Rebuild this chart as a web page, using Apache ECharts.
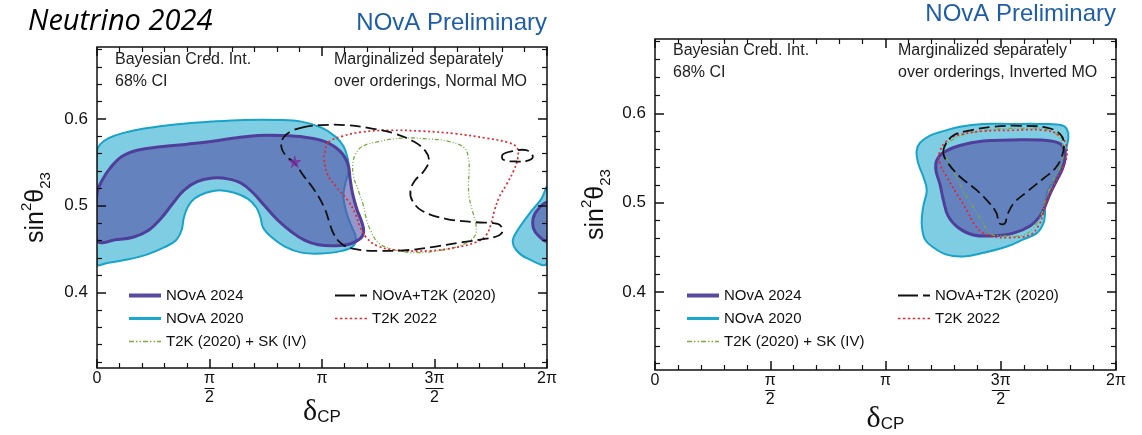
<!DOCTYPE html>
<html>
<head>
<meta charset="utf-8">
<script src="https://cdn.jsdelivr.net/npm/echarts@6/dist/echarts.min.js"></script>
<style>
  html, body { margin: 0; padding: 0; background: #fff; }
  #chart { width: 1142px; height: 435px; }
</style>
</head>
<body>
<div id="chart"></div>
<script>
// x = delta_CP in units of pi, y = sin^2(theta23)
var xTickValues = [0, 0.5, 1, 1.5, 2];
var xTickLabels = ['0', 'π/2', 'π', '3π/2', '2π'];
var yTickValues = [0.4, 0.5, 0.6];
var yRange = [0.313, 0.683];

var legendCol1 = ['NOvA 2024', 'NOvA 2020', 'T2K (2020) + SK (IV)'];
var legendCol2 = ['NOvA+T2K (2020)', 'T2K 2022'];

// ---- Normal MO (left) ----
var nova2020NO = [[0,0.563],[0.015,0.571],[0.052,0.578],[0.119,0.584],[0.209,0.589],[0.358,0.594],[0.507,0.597],[0.656,0.599],[0.805,0.599],[0.909,0.597],[0.998,0.590],[1.058,0.580],[1.095,0.569],[1.115,0.554],[1.118,0.540],[1.103,0.525],[1.095,0.510],[1.110,0.491],[1.133,0.475],[1.150,0.464],[1.140,0.454],[1.088,0.448],[0.998,0.445],[0.909,0.446],[0.835,0.453],[0.775,0.464],[0.738,0.475],[0.726,0.487],[0.708,0.498],[0.671,0.508],[0.611,0.515],[0.544,0.518],[0.484,0.515],[0.432,0.508],[0.402,0.498],[0.385,0.485],[0.376,0.472],[0.350,0.460],[0.298,0.452],[0.224,0.444],[0.134,0.438],[0.045,0.434],[0,0.433]];
var nova2020NOwrap = [[2,0.521],[1.975,0.508],[1.922,0.491],[1.875,0.474],[1.848,0.460],[1.863,0.449],[1.915,0.439],[2,0.434]];
var nova2024NO = [[0,0.514],[0.022,0.529],[0.060,0.544],[0.112,0.557],[0.179,0.564],[0.283,0.568],[0.402,0.571],[0.507,0.574],[0.611,0.578],[0.715,0.581],[0.820,0.581],[0.924,0.579],[1.013,0.574],[1.080,0.563],[1.115,0.548],[1.125,0.531],[1.136,0.514],[1.155,0.496],[1.177,0.481],[1.185,0.470],[1.170,0.462],[1.125,0.456],[1.058,0.454],[0.984,0.455],[0.924,0.460],[0.864,0.470],[0.805,0.483],[0.745,0.500],[0.693,0.515],[0.641,0.526],[0.581,0.531],[0.514,0.532],[0.447,0.528],[0.387,0.518],[0.335,0.502],[0.283,0.485],[0.231,0.472],[0.164,0.464],[0.089,0.461],[0,0.460]];
var nova2024NOwrap = [[2,0.503],[1.967,0.498],[1.940,0.487],[1.940,0.474],[1.964,0.465],[2,0.460]];
var t2kskNO = [[1.177,0.568],[1.148,0.559],[1.137,0.548],[1.140,0.534],[1.162,0.517],[1.182,0.502],[1.195,0.487],[1.215,0.472],[1.252,0.457],[1.326,0.449],[1.416,0.446],[1.535,0.449],[1.632,0.456],[1.681,0.466],[1.684,0.479],[1.669,0.494],[1.654,0.510],[1.651,0.525],[1.654,0.540],[1.651,0.555],[1.632,0.567],[1.565,0.574],[1.475,0.577],[1.356,0.578],[1.252,0.574]];
var t2k22NO = [[1.028,0.573],[1.013,0.563],[1.010,0.552],[1.025,0.536],[1.066,0.521],[1.115,0.506],[1.148,0.491],[1.170,0.475],[1.195,0.464],[1.244,0.454],[1.326,0.449],[1.475,0.448],[1.595,0.452],[1.684,0.458],[1.729,0.466],[1.751,0.479],[1.766,0.494],[1.788,0.510],[1.821,0.525],[1.851,0.540],[1.870,0.555],[1.866,0.567],[1.826,0.573],[1.729,0.578],[1.595,0.583],[1.446,0.586],[1.297,0.587],[1.177,0.585],[1.088,0.580]];
var nt2kNO = [[0.924,0.591],[0.864,0.586],[0.827,0.578],[0.820,0.567],[0.842,0.557],[0.879,0.549],[0.917,0.535],[0.969,0.517],[1.010,0.498],[1.033,0.481],[1.051,0.468],[1.088,0.456],[1.148,0.450],[1.252,0.448],[1.386,0.449],[1.505,0.453],[1.624,0.458],[1.729,0.462],[1.788,0.466],[1.803,0.472],[1.781,0.479],[1.684,0.481],[1.550,0.485],[1.446,0.494],[1.401,0.506],[1.393,0.517],[1.413,0.529],[1.453,0.540],[1.475,0.552],[1.460,0.563],[1.408,0.574],[1.326,0.583],[1.222,0.589],[1.103,0.593],[0.998,0.593]];
var nt2kNOloop = [[1.803,0.559],[1.848,0.563],[1.908,0.564],[1.937,0.557],[1.915,0.552],[1.863,0.551],[1.806,0.553]];
var bestFitNO = [[0.879, 0.551]];

// ---- Inverted MO (right) ----
var nova2020IO = [[1.135,0.558],[1.150,0.567],[1.193,0.575],[1.251,0.580],[1.323,0.585],[1.424,0.588],[1.540,0.588],[1.670,0.588],[1.771,0.586],[1.793,0.577],[1.786,0.562],[1.771,0.544],[1.743,0.529],[1.706,0.514],[1.692,0.499],[1.692,0.488],[1.685,0.477],[1.656,0.466],[1.598,0.459],[1.526,0.451],[1.424,0.444],[1.338,0.440],[1.265,0.442],[1.208,0.450],[1.171,0.459],[1.157,0.477],[1.164,0.496],[1.179,0.514],[1.164,0.529],[1.142,0.544]];
var nova2024IO = [[1.219,0.536],[1.222,0.547],[1.251,0.556],[1.323,0.564],[1.424,0.569],[1.540,0.570],[1.670,0.570],[1.757,0.566],[1.779,0.555],[1.771,0.540],[1.743,0.525],[1.714,0.510],[1.692,0.496],[1.670,0.485],[1.627,0.474],[1.555,0.466],[1.468,0.463],[1.381,0.464],[1.316,0.472],[1.272,0.485],[1.251,0.503],[1.236,0.521]];
var t2kskIO = [[1.272,0.547],[1.251,0.560],[1.294,0.571],[1.352,0.577],[1.468,0.582],[1.583,0.583],[1.699,0.582],[1.754,0.573],[1.771,0.558],[1.757,0.540],[1.728,0.525],[1.699,0.507],[1.678,0.488],[1.649,0.474],[1.598,0.464],[1.497,0.463],[1.450,0.466],[1.424,0.477],[1.388,0.492],[1.345,0.510],[1.306,0.529]];
var t2k22IO = [[1.236,0.544],[1.234,0.556],[1.266,0.569],[1.323,0.576],[1.424,0.580],[1.555,0.581],[1.685,0.581],[1.757,0.575],[1.786,0.562],[1.782,0.547],[1.757,0.533],[1.728,0.518],[1.699,0.503],[1.685,0.488],[1.663,0.474],[1.627,0.464],[1.540,0.461],[1.468,0.462],[1.424,0.466],[1.388,0.475],[1.352,0.492],[1.309,0.510],[1.266,0.529]];
var nt2kIO = [[1.251,0.555],[1.258,0.564],[1.294,0.575],[1.352,0.580],[1.468,0.585],[1.583,0.586],[1.699,0.584],[1.757,0.577],[1.774,0.566],[1.764,0.551],[1.735,0.538],[1.685,0.527],[1.613,0.512],[1.555,0.499],[1.528,0.486],[1.518,0.477],[1.494,0.477],[1.482,0.488],[1.453,0.499],[1.396,0.514],[1.323,0.529],[1.272,0.544]];

var styles = {
  'NOvA 2020': { fill: '#7fcde3', stroke: '#18a3c8', lineWidth: 2, legend: '#18a9cc' },
  'NOvA 2024': { fill: 'rgba(84,86,168,0.62)', stroke: '#4f3f9b', lineWidth: 3, legend: '#5a4a9e' },
  'T2K (2020) + SK (IV)': { fill: null, stroke: '#7aab3e', lineWidth: 1.3, lineDash: [4, 2, 1, 2, 1, 2], legend: '#7aab3e' },
  'NOvA+T2K (2020)': { fill: null, stroke: '#111', lineWidth: 1.8, lineDash: [11, 5], legend: '#111' },
  'T2K 2022': { fill: null, stroke: '#e3262f', lineWidth: 1.7, lineDash: [2, 2.6], legend: '#e3262f' }
};

function contour(name, points, gi) {
  var st = styles[name];
  return {
    type: 'custom', name: name, xAxisIndex: gi * 2, yAxisIndex: gi * 4,
    clip: true, silent: true, z: 2,
    itemStyle: { color: st.legend },
    data: points,
    renderItem: function (params, api) {
      if (params.dataIndex !== 0) return;
      var pts = points.map(function (p) { return api.coord(p); });
      return {
        type: 'polygon',
        shape: { points: pts, smooth: 0.4 },
        style: {
          fill: st.fill || 'none', stroke: st.stroke, lineWidth: st.lineWidth,
          lineDash: st.lineDash || null
        }
      };
    }
  };
}

// legend icon: segments [start, length] inside a 32x6 box
function icon(segs, thick) {
  var y = (6 - thick) / 2;
  var p = 'path://M0,0h0.01v0.01h-0.01z M31.99,5.99h0.01v0.01h-0.01z';
  segs.forEach(function (s) { p += ' M' + s[0] + ',' + y + 'h' + s[1] + 'v' + thick + 'h' + (-s[1]) + 'z'; });
  return p;
}
var dots = [];
for (var d = 0; d < 32; d += 5) dots.push([d, 2.5]);
var icons = {
  'NOvA 2024': icon([[0, 32]], 4),
  'NOvA 2020': icon([[0, 32]], 3),
  'T2K (2020) + SK (IV)': icon([[0, 5], [7, 1.5], [10.5, 1.5], [14, 5], [21, 1.5], [24.5, 1.5], [28, 4]], 1.5),
  'NOvA+T2K (2020)': icon([[0, 20], [25, 7]], 2),
  'T2K 2022': icon(dots, 1.5)
};

function legend(names, left, top) {
  return {
    orient: 'vertical', left: left, top: top, padding: 0,
    itemWidth: 32, itemHeight: 6, itemGap: 8, selectedMode: false,
    textStyle: { fontFamily: 'Liberation Sans', fontSize: 15, color: '#111' },
    itemStyle: { borderWidth: 0 },
    data: names.map(function (n) {
      return { name: n, icon: icons[n], itemStyle: { color: styles[n].legend, borderWidth: 0 } };
    })
  };
}

var font = 'Liberation Sans';
var richX = {
  n: { fontFamily: font, fontSize: 16, color: '#111', lineHeight: 14 },
  bar: { width: 10, height: 1, lineHeight: 5, backgroundColor: '#111' },
  bar3: { width: 18, height: 1, lineHeight: 5, backgroundColor: '#111' }
};
function xLabel(v) {
  var i = xTickValues.indexOf(v);
  var s = i >= 0 ? xTickLabels[i] : '';
  if (s.indexOf('/') < 0) return '{n|' + s + '}';
  var parts = s.split('/');
  return '{n|' + parts[0] + '}\n{' + (parts[0].length > 1 ? 'bar3' : 'bar') + '| }\n{n|' + parts[1] + '}';
}

var minorY = [];
for (var k = 16; k <= 34; k++) { if (k % 5 !== 0) minorY.push(k / 50); }

function xAxes(gi, nameGap) {
  var common = {
    type: 'value', gridIndex: gi, min: 0, max: 2, interval: 0.5, z: 5,
    axisLine: { show: false }, splitLine: { show: false },
    axisTick: { inside: true, length: 9, lineStyle: { color: '#111', width: 1.5 } },
    minorTick: { show: true, splitNumber: 5, length: 5, lineStyle: { color: '#111', width: 1.2 } }
  };
  return [
    Object.assign({}, common, {
      position: 'bottom',
      axisLabel: { margin: 4, formatter: xLabel, rich: richX, fontFamily: font, fontSize: 16, color: '#111' },
      name: '{d|δ}{s|CP}', nameLocation: 'middle', nameGap: nameGap, nameMoveOverlap: false,
      nameTextStyle: { rich: {
        d: { fontFamily: 'Liberation Serif', fontSize: 30, color: '#111', lineHeight: 28 },
        s: { fontFamily: font, fontSize: 17, color: '#111', verticalAlign: 'bottom', lineHeight: 18, padding: [12, 0, 0, 0] }
      } }
    }),
    Object.assign({}, common, { position: 'top', axisLabel: { show: false } })
  ];
}
function yAxes(gi, nameGap) {
  var common = {
    type: 'value', gridIndex: gi, min: yRange[0], max: yRange[1], z: 5,
    axisLine: { show: false }, splitLine: { show: false }
  };
  var major = { inside: true, length: 9, customValues: yTickValues, lineStyle: { color: '#111', width: 1.5 } };
  var minor = { inside: true, length: 5, customValues: minorY, lineStyle: { color: '#111', width: 1.2 } };
  return [
    Object.assign({}, common, {
      position: 'left', axisTick: major,
      axisLabel: { customValues: yTickValues, margin: 9, fontFamily: font, fontSize: 17, color: '#111',
        formatter: function (v) { return v.toFixed(1); } },
      name: '{m|sin}{u|2}{m|θ}{b|23}', nameLocation: 'middle', nameGap: nameGap, nameRotate: 90,
      nameTextStyle: { rich: {
        m: { fontFamily: font, fontSize: 25, color: '#111', lineHeight: 34 },
        u: { fontFamily: font, fontSize: 15, color: '#111', verticalAlign: 'top', lineHeight: 17 },
        b: { fontFamily: font, fontSize: 15, color: '#111', verticalAlign: 'bottom', lineHeight: 17 }
      } }
    }),
    Object.assign({}, common, { position: 'left', axisTick: minor, axisLabel: { show: false } }),
    Object.assign({}, common, { position: 'right', axisTick: major, axisLabel: { show: false } }),
    Object.assign({}, common, { position: 'right', axisTick: minor, axisLabel: { show: false } })
  ];
}

function txt(x, y, s, opts) {
  return Object.assign({ type: 'text', x: x, y: y, z: 10,
    style: Object.assign({ text: s, font: '16px "Liberation Sans"', fill: '#222', verticalAlign: 'middle' }, opts || {}) });
}

var chart = echarts.init(document.getElementById('chart'));
chart.setOption({
  animation: false,
  backgroundColor: '#fff',
  grid: [
    { left: 97, top: 47, width: 450, height: 321, show: true, borderColor: '#111', borderWidth: 1.5, z: 6, outerBoundsMode: 'none' },
    { left: 655, top: 39, width: 461, height: 331, show: true, borderColor: '#111', borderWidth: 1.5, z: 6, outerBoundsMode: 'none' }
  ],
  xAxis: xAxes(0, 30).concat(xAxes(1, 35)),
  yAxis: yAxes(0, 44).concat(yAxes(1, 42)),
  legend: [
    legend(legendCol1, 129, 288), legend(legendCol2, 335, 288),
    legend(legendCol1, 687, 288), legend(legendCol2, 898, 288)
  ],
  graphic: [
    txt(28, 22, 'Neutrino 2024', { font: 'italic 29px "Open Sans"', fill: '#000' }),
    txt(547, 23, 'NOvA Preliminary', { font: '24px "Liberation Sans"', fill: '#1f5ea6', align: 'right' }),
    txt(1116, 14, 'NOvA Preliminary', { font: '24px "Liberation Sans"', fill: '#1f5ea6', align: 'right' }),
    txt(115, 60, 'Bayesian Cred. Int.'),
    txt(115, 82, '68% CI'),
    txt(334, 60, 'Marginalized separately'),
    txt(334, 82, 'over orderings, Normal MO'),
    txt(673, 51, 'Bayesian Cred. Int.'),
    txt(673, 73, '68% CI'),
    txt(898, 51, 'Marginalized separately'),
    txt(898, 73, 'over orderings, Inverted MO')
  ],
  series: [
    contour('NOvA 2020', nova2020NO, 0),
    contour('NOvA 2020', nova2020NOwrap, 0),
    contour('NOvA 2024', nova2024NO, 0),
    contour('NOvA 2024', nova2024NOwrap, 0),
    contour('T2K (2020) + SK (IV)', t2kskNO, 0),
    contour('T2K 2022', t2k22NO, 0),
    contour('NOvA+T2K (2020)', nt2kNO, 0),
    contour('NOvA+T2K (2020)', nt2kNOloop, 0),
    {
      type: 'scatter', name: 'best fit', xAxisIndex: 0, yAxisIndex: 0, z: 4, silent: true,
      symbol: 'path://M50,0L61,35L98,35L68,57L79,91L50,70L21,91L32,57L2,35L39,35Z',
      symbolSize: 14, itemStyle: { color: '#7a2c9e' }, data: bestFitNO
    },
    contour('NOvA 2020', nova2020IO, 1),
    contour('NOvA 2024', nova2024IO, 1),
    contour('T2K (2020) + SK (IV)', t2kskIO, 1),
    contour('T2K 2022', t2k22IO, 1),
    contour('NOvA+T2K (2020)', nt2kIO, 1)
  ]
});
</script>
</body>
</html>
